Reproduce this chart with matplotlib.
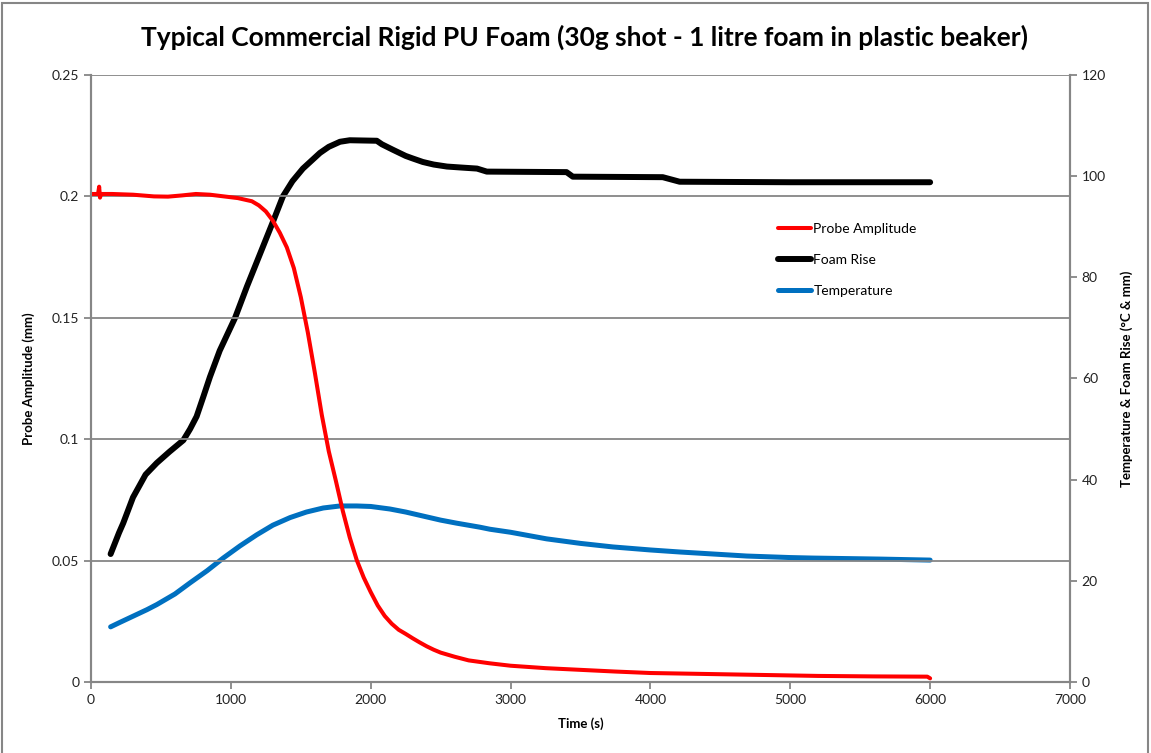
import matplotlib.pyplot as plt
from matplotlib.patches import Rectangle

# probe amplitude (left axis, mm)
t_probe = [0, 50, 58, 64, 72, 150, 300, 450, 550, 650, 750, 850, 950, 1050,
           1150, 1200, 1250, 1300, 1350, 1400, 1450, 1500, 1550, 1600, 1650,
           1700, 1750, 1800, 1850, 1900, 1950, 2000, 2050, 2100, 2150, 2200,
           2250, 2300, 2350, 2400, 2450, 2500, 2600, 2700, 2850, 3000, 3250,
           3500, 3750, 4000, 4400, 4800, 5200, 5600, 5980, 6000]
probe = [0.2010, 0.2010, 0.2040, 0.1995, 0.2010, 0.2010, 0.2007, 0.2000,
         0.1999, 0.2004, 0.2010, 0.2007, 0.2000, 0.1993, 0.1980, 0.1963,
         0.1938, 0.1900, 0.1850, 0.1790, 0.1705, 0.1585, 0.1440, 0.1275,
         0.1100, 0.0950, 0.0830, 0.0705, 0.0595, 0.0502, 0.0430, 0.0370,
         0.0315, 0.0272, 0.0240, 0.0215, 0.0198, 0.0180, 0.0163, 0.0147,
         0.0133, 0.0121, 0.0104, 0.0089, 0.0077, 0.0067, 0.0057, 0.0050,
         0.0043, 0.0037, 0.0033, 0.0029, 0.0025, 0.0023, 0.0022, 0.0015]

# foam rise (right axis, mm)
t_rise = [140, 200, 230, 300, 350, 390, 470, 560, 660, 708, 755, 803, 850,
          920, 1030, 1115, 1208, 1301, 1372, 1440, 1515, 1637, 1700, 1780,
          1850, 2043, 2080, 2160, 2250, 2300, 2373, 2450, 2545, 2650, 2760,
          2830, 3400, 3445, 4088, 4209, 5000, 6000]
rise = [25.3, 29.5, 31.4, 36.5, 39.0, 41.0, 43.3, 45.5, 47.8, 50.0, 52.5,
        56.4, 60.3, 65.5, 72.0, 78.2, 84.6, 91.0, 96.0, 99.0, 101.5, 104.6,
        105.8, 106.8, 107.1, 107.0, 106.3, 105.2, 104.0, 103.5, 102.8, 102.3,
        101.9, 101.7, 101.5, 100.9, 100.8, 99.9, 99.8, 98.9, 98.8, 98.8]

# temperature (right axis, degC)
t_temp = [140, 200, 300, 400, 470, 600, 708, 830, 945, 1065, 1185, 1300,
          1423, 1540, 1660, 1780, 1900, 2000, 2137, 2250, 2375, 2500, 2614,
          2781, 2852, 3000, 3257, 3500, 3731, 4000, 4210, 4450, 4689, 5000,
          5161, 5640, 6000]
temp = [10.9, 11.7, 13.0, 14.3, 15.3, 17.4, 19.6, 22.0, 24.5, 26.9, 29.1,
        31.0, 32.5, 33.6, 34.4, 34.8, 34.8, 34.7, 34.2, 33.6, 32.8, 32.0,
        31.4, 30.6, 30.2, 29.6, 28.3, 27.4, 26.7, 26.1, 25.7, 25.3, 24.9,
        24.6, 24.5, 24.3, 24.1]

plt.rcParams['font.family'] = ['Lato', 'DejaVu Sans']
grey = '#868686'

fig = plt.figure(figsize=(11.51, 7.53), dpi=100)
ax = fig.add_axes([0.0791, 0.0943, 0.8505, 0.8061])
ax2 = ax.twinx()

ax2.plot(t_temp, temp, color='#0070c0', lw=3.6, solid_capstyle='round',
         label='Temperature')
ax2.plot(t_rise, rise, color='black', lw=4.3, solid_capstyle='round',
         label='Foam Rise')
ax.plot(t_probe, probe, color='#ff0000', lw=2.9, solid_capstyle='round',
        label='Probe Amplitude')

ax.set_zorder(ax2.get_zorder() + 1)
ax.patch.set_visible(False)

ax.set_xlim(0, 7000)
ax.set_ylim(0, 0.25)
ax2.set_ylim(0, 120)
ax.set_xticks(range(0, 7001, 1000))
ax.set_yticks([0, 0.05, 0.1, 0.15, 0.2, 0.25])
ax.set_yticklabels(['0', '0.05', '0.1', '0.15', '0.2', '0.25'])
ax2.set_yticks(range(0, 121, 20))

ax.grid(axis='y', color=grey, lw=1.3)
ax.set_axisbelow(True)
for a in (ax, ax2):
    a.spines['top'].set_visible(False)
    for s in ('left', 'right', 'bottom'):
        a.spines[s].set_color(grey)
        a.spines[s].set_linewidth(1.5)
    a.tick_params(colors=grey, labelcolor='#222222', labelsize=10,
                  length=5, width=1.3)

ax.set_xlabel('Time (s)', fontsize=9.5, fontweight='bold', labelpad=8)
ax.set_ylabel('Probe Amplitude (mm)', fontsize=9.5, fontweight='bold',
              labelpad=12)
ax2.set_ylabel('Temperature & Foam Rise (°C & mm)', fontsize=9.5,
               fontweight='bold', labelpad=10)

fig.suptitle('Typical Commercial Rigid PU Foam (30g shot - 1 litre foam in plastic beaker)',
             x=0.508, y=0.967, fontsize=19, fontweight='bold')

h1, l1 = ax.get_legend_handles_labels()
h2, l2 = ax2.get_legend_handles_labels()
ax.legend(h1 + h2[::-1], l1 + l2[::-1], loc='upper left',
          bbox_to_anchor=(0.665, 0.72), bbox_transform=fig.transFigure,
          frameon=False, fontsize=10, handlelength=2.4, handletextpad=0.15,
          labelspacing=1.35)

fig.patches.append(Rectangle((0.002, -0.01), 0.995, 1.006,
                             transform=fig.transFigure, fill=False,
                             edgecolor=grey, lw=1.5))

fig.savefig('out.png', dpi=100)
